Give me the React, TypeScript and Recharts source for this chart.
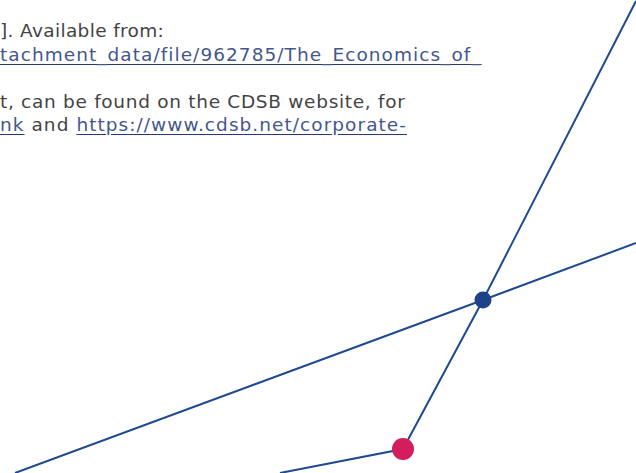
import { ComposedChart, Line, Scatter, XAxis, YAxis } from "recharts";

const W = 636;
const H = 473;

// two crossing lines, x / y measured from bottom-left
const lineA = [
  { x: 15, y: 0 },
  { x: 483, y: 173 },
  { x: 636, y: 230 },
];
const lineB = [
  { x: 280, y: 0 },
  { x: 403, y: 24 },
  { x: 483, y: 173 },
  { x: 636, y: 472 },
];
const dotsBlue = [{ x: 483, y: 173 }];
const dotsRed = [{ x: 403, y: 24 }];

const textGray = "#444444";
const linkBlue = "#44578c";
const navy = "#1f4a91";

const linkStyle = {
  color: linkBlue,
  textDecoration: "underline",
  textDecorationColor: "#233a73",
  textUnderlineOffset: 3,
};

function Dot({ cx, cy, r, fill }: { cx?: number; cy?: number; r: number; fill: string }) {
  if (cx == null || cy == null) return null;
  return <circle cx={cx} cy={cy} r={r} fill={fill} />;
}

export default function App() {
  return (
    <div
      style={{
        position: "absolute",
        top: 0,
        left: 0,
        width: W,
        height: H,
        overflow: "hidden",
        background: "#fff",
        fontFamily: "'DejaVu Sans', sans-serif",
      }}
    >
      <div
        style={{
          position: "absolute",
          top: 19,
          left: 0,
          fontSize: 18.5,
          letterSpacing: 0.9,
          lineHeight: "23.5px",
          color: textGray,
          whiteSpace: "pre",
        }}
      >
        <div style={{ letterSpacing: 0.35 }}>]. Available from:</div>
        <div style={{ letterSpacing: 1.05 }}>
          <span style={linkStyle}>tachment_data/file/962785/The_Economics_of_</span>
        </div>
        <div>&nbsp;</div>
        <div style={{ letterSpacing: 0.7 }}>t, can be found on the CDSB website, for</div>
        <div style={{ letterSpacing: 1.05 }}>
          <span style={linkStyle}>nk</span> and{" "}
          <span style={linkStyle}>https://www.cdsb.net/corporate-</span>
        </div>
      </div>

      <div style={{ position: "absolute", top: 0, left: 0 }}>
        <ComposedChart width={W} height={H} margin={{ top: 0, right: 0, bottom: 0, left: 0 }}>
          <XAxis type="number" dataKey="x" domain={[0, W]} hide allowDataOverflow />
          <YAxis type="number" dataKey="y" domain={[0, H]} hide allowDataOverflow />
          <Line
            data={lineA}
            dataKey="y"
            type="linear"
            stroke={navy}
            strokeWidth={2}
            dot={false}
            activeDot={false}
            isAnimationActive={false}
          />
          <Line
            data={lineB}
            dataKey="y"
            type="linear"
            stroke={navy}
            strokeWidth={2}
            dot={false}
            activeDot={false}
            isAnimationActive={false}
          />
          <Scatter
            data={dotsBlue}
            dataKey="y"
            isAnimationActive={false}
            shape={(p: any) => <Dot cx={p.cx} cy={p.cy} r={8.5} fill="#1d4289" />}
          />
          <Scatter
            data={dotsRed}
            dataKey="y"
            isAnimationActive={false}
            shape={(p: any) => <Dot cx={p.cx} cy={p.cy} r={11} fill="#d41d5c" />}
          />
        </ComposedChart>
      </div>
    </div>
  );
}
